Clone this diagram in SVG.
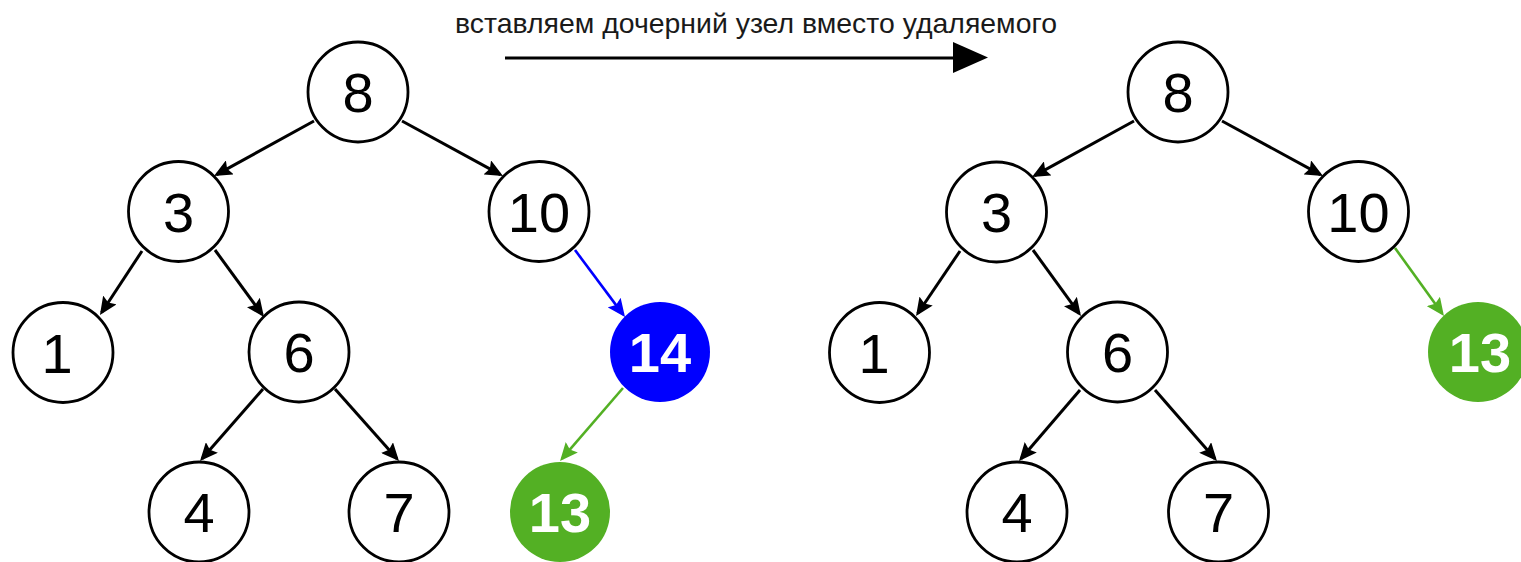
<svg xmlns="http://www.w3.org/2000/svg" width="1521" height="562" viewBox="0 0 1521 562">
<style>
.n{fill:#fff;stroke:#000;stroke-width:2.8}
.t{font-family:"Liberation Sans",Arial,sans-serif;font-size:56px;text-anchor:middle;fill:#000}
.tb{font-family:"Liberation Sans",Arial,sans-serif;font-size:56px;font-weight:bold;text-anchor:middle;fill:#fff}
.e{stroke:#000;stroke-width:3;fill:none;marker-end:url(#ak)}
.eb{stroke:#0000ff;stroke-width:2.6;fill:none;marker-end:url(#ab)}
.eg{stroke:#53b024;stroke-width:2.6;fill:none;marker-end:url(#ag)}
.title{font-family:"Liberation Sans",Arial,sans-serif;font-size:28px;text-anchor:middle;fill:#1a1a1a}
</style>
<defs>
<marker id="ak" viewBox="0 0 18 16" refX="15" refY="8" markerWidth="18" markerHeight="16" markerUnits="userSpaceOnUse" orient="auto"><path d="M0,0 L18,8 L0,16 L3,8 z" fill="#000"/></marker>
<marker id="ab" viewBox="0 0 18 16" refX="15" refY="8" markerWidth="18" markerHeight="16" markerUnits="userSpaceOnUse" orient="auto"><path d="M0,0 L18,8 L0,16 L3,8 z" fill="#0000ff"/></marker>
<marker id="ag" viewBox="0 0 18 16" refX="15" refY="8" markerWidth="18" markerHeight="16" markerUnits="userSpaceOnUse" orient="auto"><path d="M0,0 L18,8 L0,16 L3,8 z" fill="#53b024"/></marker>
</defs>
<rect width="1521" height="562" fill="#fff"/>

<g id="title">
<text class="title" x="756" y="33" textLength="602" lengthAdjust="spacingAndGlyphs">вставляем дочерний узел вместо удаляемого</text>
<line x1="505" y1="58" x2="956" y2="58" stroke="#000" stroke-width="3"/>
<polygon points="953,42 988,57.5 953,73" fill="#000"/>
</g>

<g id="connectors">
<line class="e" x1="314" y1="121" x2="216.6" y2="174.6"/>
<line class="e" x1="402" y1="121" x2="500.4" y2="174.6"/>
<line class="e" x1="142" y1="251" x2="101.6" y2="312.5"/>
<line class="e" x1="215" y1="250" x2="262.2" y2="314.6"/>
<line class="e" x1="263" y1="389" x2="202" y2="458.7"/>
<line class="e" x1="335" y1="389" x2="397" y2="458.8"/>
<line class="eb" x1="575" y1="250" x2="623.2" y2="314.6"/>
<line class="eg" x1="623" y1="388" x2="562" y2="458.7"/>
<line class="e" x1="1134" y1="121" x2="1034.6" y2="175.6"/>
<line class="e" x1="1222" y1="121" x2="1320.4" y2="174.6"/>
<line class="e" x1="960" y1="251" x2="917.7" y2="313.5"/>
<line class="e" x1="1033" y1="250" x2="1079.2" y2="313.6"/>
<line class="e" x1="1080" y1="390" x2="1021" y2="458.7"/>
<line class="e" x1="1155" y1="390" x2="1215" y2="458.7"/>
<line class="eg" x1="1395" y1="248" x2="1442.2" y2="313.6"/>
</g>

<g id="L8"><circle class="n" cx="358" cy="92" r="50"/><text class="t" x="358" y="112">8</text></g>
<g id="L3"><circle class="n" cx="178.5" cy="211.5" r="50"/><text class="t" x="178.5" y="231.5">3</text></g>
<g id="L10"><circle class="n" cx="539" cy="211.5" r="50"/><text class="t" x="539" y="231.5">10</text></g>
<g id="L1"><circle class="n" cx="63" cy="352.5" r="50"/><text class="t" x="57" y="372.5">1</text></g>
<g id="L6"><circle class="n" cx="299" cy="352" r="50"/><text class="t" x="299" y="372">6</text></g>
<g id="L14"><circle cx="660" cy="352" r="50" fill="#0000ff"/><text class="tb" x="660" y="372">14</text></g>
<g id="L4"><circle class="n" cx="199" cy="512" r="50"/><text class="t" x="199" y="532">4</text></g>
<g id="L7"><circle class="n" cx="399" cy="512" r="50"/><text class="t" x="399" y="532">7</text></g>
<g id="L13"><circle cx="560" cy="512" r="50" fill="#53b024"/><text class="tb" x="560" y="532">13</text></g>

<g id="R8"><circle class="n" cx="1178" cy="92" r="50"/><text class="t" x="1178" y="112">8</text></g>
<g id="R3"><circle class="n" cx="996.5" cy="212" r="50"/><text class="t" x="996.5" y="232">3</text></g>
<g id="R10"><circle class="n" cx="1358.5" cy="211.5" r="50"/><text class="t" x="1358.5" y="231.5">10</text></g>
<g id="R1"><circle class="n" cx="879.5" cy="352.5" r="50"/><text class="t" x="874" y="372.5">1</text></g>
<g id="R6"><circle class="n" cx="1117.5" cy="352" r="50"/><text class="t" x="1117.5" y="372">6</text></g>
<g id="R13"><circle cx="1478" cy="352" r="50" fill="#53b024"/><text class="tb" x="1480" y="372">13</text></g>
<g id="R4"><circle class="n" cx="1017" cy="512" r="50"/><text class="t" x="1017" y="532">4</text></g>
<g id="R7"><circle class="n" cx="1218.5" cy="512" r="50"/><text class="t" x="1218.5" y="532">7</text></g>
</svg>
